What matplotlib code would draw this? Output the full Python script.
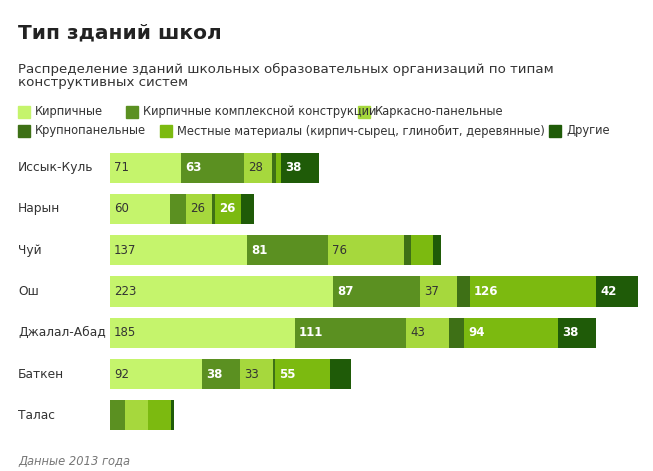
import numpy as np
import pandas as pd
from matplotlib import pyplot as plt
from matplotlib import transforms
from matplotlib.patches import Rectangle


class Plotter:

    def __init__(self, config):
        self.config = config

    def _legend(self, fig, categories, colors):
        # two rows of square markers, positions in pixels
        rows = [[0, 1, 2], [3, 4, 5]]
        x_pos = [[18, 126, 358], [18, 160, 549]]
        y_pos = [112, 131]
        w, h = self.config['size']
        for r, row in enumerate(rows):
            for c, idx in enumerate(row):
                x = x_pos[r][c] / w
                y = 1 - y_pos[r] / h
                fig.patches.append(Rectangle((x, y - 6 / h), 12 / w, 12 / h, color=colors[idx],
                                             transform=fig.transFigure, figure=fig))
                fig.text(x + 17 / w, y, categories[idx], fontsize=8.3, color='#333333', va='center')

    def make_stacked_bar_chart(self, data: pd.DataFrame, colors: list, save_path: str) -> None:
        """
        method to make a horizontal stacked bar chart
        :param data: DataFrame with regions as index and building types as columns
        :param colors: list of colors, one per building type
        :param save_path: str path where the figure should be saved to
        :return: None
        """
        w, h = self.config['size']
        fig = plt.figure(figsize=(w / 100, h / 100), dpi=100)
        ax = fig.add_axes([110 / w, 1 - 436 / h, 530 / w, 289 / h])
        dark = [False, True, False, True, True, True]  # white bold labels on dark segments
        index = np.arange(len(data))
        left = np.zeros(len(data))
        for i, col in enumerate(data.columns):
            values = data[col].values
            ax.barh(index, values, left=left, height=0.73, color=colors[i])
            for j, value in enumerate(values):
                if value >= 26:
                    ax.text(left[j] + 4, index[j], f'{value}', va='center', ha='left', fontsize=8.5,
                            color='white' if dark[i] else '#333333',
                            fontweight='bold' if dark[i] else 'normal')
            left += values
        ax.set_xlim(0, 530)
        ax.set_ylim(len(data) - 0.5, -0.5)
        ax.axis('off')

        trans = transforms.blended_transform_factory(fig.transFigure, ax.transData)
        for j, region in enumerate(data.index):
            ax.text(18 / w, j, region, transform=trans, va='center', fontsize=8.8, color='#333333')

        fig.text(18 / w, 1 - 33 / h, 'Тип зданий школ', fontsize=14.5, fontweight='bold', va='center',
                 color='#222222')
        fig.text(18 / w, 1 - 76 / h,
                 'Распределение зданий школьных образовательных организаций по типам\nконструктивных систем',
                 fontsize=9.6, va='center', color='#333333', linespacing=1.05)
        self._legend(fig, list(data.columns), colors)
        fig.text(18 / w, 1 - 461 / h, 'Данные 2013 года', fontsize=8.3, style='italic', color='#777777',
                 va='center')
        fig.savefig(save_path, dpi=100)


if __name__ == "__main__":
    regions = ['Иссык-Куль', 'Нарын', 'Чуй', 'Ош', 'Джалал-Абад', 'Баткен', 'Талас']
    df = pd.DataFrame({
        'Кирпичные': [71, 60, 137, 223, 185, 92, 0],
        'Кирпичные комплексной конструкции': [63, 16, 81, 87, 111, 38, 15],
        'Каркасно-панельные': [28, 26, 76, 37, 43, 33, 23],
        'Крупнопанельные': [4, 3, 7, 13, 15, 2, 0],
        'Местные материалы (кирпич-сырец, глинобит, деревянные)': [5, 26, 22, 126, 94, 55, 23],
        'Другие': [38, 13, 8, 42, 38, 21, 3],
    }, index=regions)
    colors = ['#c5f46c', '#5b9021', '#a6d83d', '#3e7016', '#7cba10', '#1f5b08']
    plotter = Plotter({'size': (653, 471)})
    plotter.make_stacked_bar_chart(df, colors, 'out.png')
